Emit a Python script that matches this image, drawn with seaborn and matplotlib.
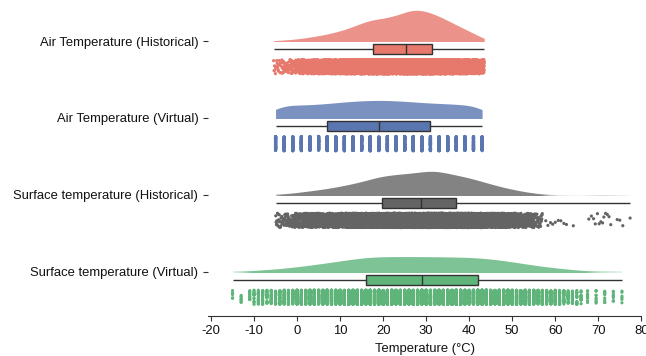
import numpy as np
import pandas as pd
import matplotlib
matplotlib.use("Agg")
import matplotlib.pyplot as plt
from matplotlib.patches import Rectangle
import seaborn as sns

# ---------------- data ----------------
CATEGORIES = [
    "Air Temperature (Historical)",
    "Air Temperature (Virtual)",
    "Surface temperature (Historical)",
    "Surface temperature (Virtual)",
]

# Air temperature (historical): histogram counts over an even grid of bins
AIR_HIST_RANGE = (-5.5, 43.5)
AIR_HIST_COUNTS = [20, 40, 60, 100, 140, 190, 250, 320, 410, 520, 630, 710,
                   730, 800, 880, 1000, 1020, 960, 850, 720, 570, 430, 290, 150]

# Air temperature (virtual): discrete values and their counts
AIR_VIRT_VALUES = [-5, -3, -1, 1, 3, 5, 7, 9, 11, 13, 15, 17, 19, 21, 23, 25,
                   27, 29, 31, 33, 35, 37, 39, 41, 43]
AIR_VIRT_COUNTS = [100, 98, 94, 94, 96, 100, 106, 112, 118, 123, 127, 130,
                   131, 130, 127, 123, 118, 113, 108, 108, 104, 100, 97, 95, 94]

# Surface temperature (historical): histogram counts + sparse high values
SURF_HIST_RANGE = (-5.0, 57.0)
SURF_HIST_COUNTS = [24, 36, 72, 108, 144, 180, 228, 276, 336, 396, 468, 552,
                    624, 648, 684, 700, 735, 780, 792, 744, 672, 624, 552, 480,
                    396, 312, 240, 180, 120, 72, 36]
SURF_HIST_SPARSE = [57.8, 58.3, 58.9, 59.4, 60.0, 60.7, 61.3, 62.0, 62.6, 64.2,
                    67.8, 68.4, 68.9, 69.3, 69.8, 70.2, 70.6, 71.0, 71.3, 71.7,
                    72.1, 72.5, 72.9, 74.4, 75.0, 75.7, 77.4]

# Surface temperature (virtual): discrete values and their counts
SURF_VIRT_VALUES = ([-15, -13] + list(range(-11, 67)) +
                    [67.5, 69.5, 71.5, 73.5, 75.5])
SURF_VIRT_COUNTS = [5, 8,
                    12, 15, 18, 21, 25, 29, 34, 38, 43, 48, 54,
                    64, 70, 76, 83, 90, 98, 106, 114, 123, 132,
                    137, 146, 155, 164, 172, 180, 186, 190, 193, 195,
                    196, 196, 196, 196, 196, 196, 196, 196, 196, 196,
                    195, 195, 194, 194, 193, 192, 191, 190, 189, 188, 186, 184,
                    181, 177, 172, 166, 159, 152, 144, 136, 128, 119, 110, 101,
                    92, 84, 76, 68, 61, 54, 48, 42, 36, 31, 26, 21, 16,
                    12, 10, 9, 8, 6]

X_TICKS = [-20, -10, 0, 10, 20, 30, 40, 50, 60, 70, 80]
X_LABEL = "Temperature (°C)"

POINT_COLORS = ["#E6786C", "#5A76B0", "#646464", "#5EB479"]
CLOUD_COLORS = ["#EB938A", "#7B92C0", "#838383", "#7EC395"]


# ---------------- build long-form table ----------------
def from_histogram(rng, counts):
    edges = np.linspace(rng[0], rng[1], len(counts) + 1)
    parts = []
    for lo, hi, n in zip(edges[:-1], edges[1:], counts):
        step = (hi - lo) / n
        parts.append(lo + step / 2 + step * np.arange(n))
    return np.concatenate(parts)


def from_counts(values, counts):
    return np.repeat(np.asarray(values, float), counts)


series = [
    from_histogram(AIR_HIST_RANGE, AIR_HIST_COUNTS),
    from_counts(AIR_VIRT_VALUES, AIR_VIRT_COUNTS),
    np.concatenate([from_histogram(SURF_HIST_RANGE, SURF_HIST_COUNTS),
                    np.asarray(SURF_HIST_SPARSE)]),
    from_counts(SURF_VIRT_VALUES, SURF_VIRT_COUNTS),
]

frames = []
for i, (cat, vals) in enumerate(zip(CATEGORIES, series)):
    frames.append(pd.DataFrame({"value": vals, "cat": cat, "idx": i}))
df = pd.concat(frames, ignore_index=True)
df["cloud_pos"] = df["idx"].astype(float)
df["box_pos"] = df["idx"] + 0.108
df["strip_pos"] = df["idx"] + 0.335

# ---------------- style ----------------
sns.set_style("ticks")
plt.rcParams["font.family"] = ["Liberation Sans", "DejaVu Sans"]
plt.rcParams["axes.unicode_minus"] = False
FS = 9.4

fig = plt.figure(figsize=(6.46, 3.56), dpi=100)
ax = fig.add_axes([208 / 646, (356 - 315.7) / 356, 433.3 / 646, (315.7 - 5) / 356])

# clouds: violins with a common density scale, then keep only the upper half
n_before = len(ax.collections)
sns.violinplot(data=df, x="value", y="cloud_pos", hue="cat", hue_order=CATEGORIES,
               palette=dict(zip(CATEGORIES, CLOUD_COLORS)), orient="h",
               native_scale=True, dodge=False, inner=None, cut=0,
               density_norm="area", common_norm=True, width=0.8,
               linewidth=0, saturation=1, legend=False, ax=ax)
for coll in ax.collections[n_before:]:
    paths = coll.get_paths()
    if not paths:
        continue
    ext = paths[0].get_extents()
    centre = round((ext.y0 + ext.y1) / 2)
    clip = Rectangle((-100, centre - 1), 300, 1, transform=ax.transData)
    coll.set_clip_path(clip)

point_pal = dict(zip(CATEGORIES, POINT_COLORS))

sns.boxplot(data=df, x="value", y="box_pos", hue="cat", hue_order=CATEGORIES,
            palette=point_pal, orient="h", native_scale=True, dodge=False,
            width=0.13, whis=(0, 100), showfliers=False, showcaps=False,
            saturation=1, linecolor="#333333", linewidth=1.0, legend=False, ax=ax)

np.random.seed(7)
sns.stripplot(data=df, x="value", y="strip_pos", hue="cat", hue_order=CATEGORIES,
              palette=point_pal, orient="h", native_scale=True, dodge=False,
              jitter=0.093, size=2.3, linewidth=0, legend=False, ax=ax)

ax.set_xlim(-20.7, 80)
ax.set_ylim(3.575, -0.4686)
ax.set_xticks(X_TICKS)
ax.set_xticklabels([str(t) for t in X_TICKS])
ax.set_yticks(range(len(CATEGORIES)))
ax.set_yticklabels(CATEGORIES)
ax.set_xlabel(X_LABEL, fontsize=FS, color="#111111")
ax.set_ylabel("")
for s in ("left", "top", "right"):
    ax.spines[s].set_visible(False)
ax.spines["bottom"].set_color("#333333")
ax.spines["bottom"].set_linewidth(0.8)
ax.tick_params(axis="both", labelsize=FS, length=3.5, width=0.8,
               color="#333333", labelcolor="#111111")

fig.savefig("out.png", dpi=100)
